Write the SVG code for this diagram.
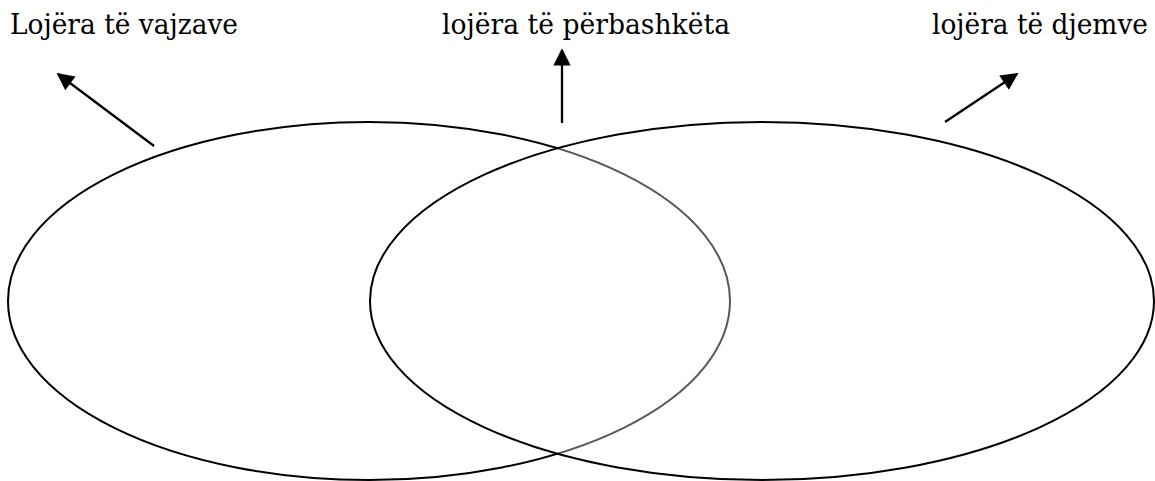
<svg xmlns="http://www.w3.org/2000/svg" width="1155" height="481" viewBox="0 0 1155 481">
<style>
.lbl{font-family:"DejaVu Serif","Liberation Serif",serif;font-size:27px;fill:#000}
.conn line{stroke:#000;stroke-width:2.3}
</style>
<defs>
<marker id="ah" viewBox="0 0 10 10" refX="9" refY="5" markerWidth="8" markerHeight="7.5" markerUnits="strokeWidth" orient="auto">
<path d="M0,0 L10,5 L0,10 z" fill="#000"/>
</marker>
</defs>
<rect width="1155" height="481" fill="#fff"/>
<g id="set-girls">
<ellipse cx="369" cy="301" rx="361" ry="179" fill="none" stroke="#000" stroke-width="2"/>
</g>
<g id="set-boys">
<ellipse cx="762" cy="301" rx="392" ry="179" fill="#fff" fill-opacity="0.35" stroke="#000" stroke-width="2"/>
</g>
<g id="label-girls"><text class="lbl" x="10" y="34" textLength="228" lengthAdjust="spacingAndGlyphs">Lojëra të vajzave</text></g>
<g id="label-common"><text class="lbl" x="442" y="34" textLength="288" lengthAdjust="spacingAndGlyphs">lojëra të përbashkëta</text></g>
<g id="label-boys"><text class="lbl" x="932" y="34" textLength="216" lengthAdjust="spacingAndGlyphs">lojëra të djemve</text></g>
<g id="connectors" class="conn">
<line x1="154" y1="146" x2="58" y2="74" marker-end="url(#ah)"/>
<line x1="562" y1="123" x2="562" y2="50" marker-end="url(#ah)"/>
<line x1="945" y1="122" x2="1017" y2="74" marker-end="url(#ah)"/>
</g>
</svg>
